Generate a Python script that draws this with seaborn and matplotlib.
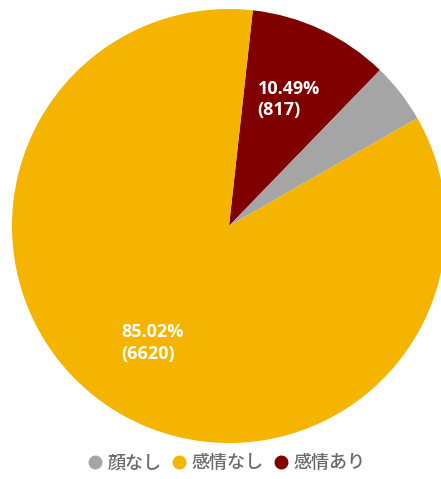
import matplotlib
matplotlib.use("Agg")
import matplotlib.pyplot as plt
from matplotlib.lines import Line2D
import seaborn as sns

# Category counts (drawn clockwise from the top)
categories = ["感情あり", "顔なし", "感情なし"]
counts = [817, 349, 6620]
colors = ["#800000", "#A5A5A5", "#F5B400"]

# Legend order
legend_order = ["顔なし", "感情なし", "感情あり"]

sns.set_theme(style="white")
plt.rcParams["font.family"] = ["Noto Sans CJK JP", "DejaVu Sans"]

W, H = 441, 479
fig = plt.figure(figsize=(W / 100, H / 100), dpi=100)
cx, cy, r = 229, H - 226, 217
ax = fig.add_axes([(cx - r) / W, (cy - r) / H, 2 * r / W, 2 * r / H])

total = sum(counts)


def fmt(pct):
    n = int(round(pct * total / 100.0))
    if n in (817, 6620):
        return f"{pct:.2f}%\n({n})"
    return ""


wedges, texts, autotexts = ax.pie(
    counts,
    colors=colors,
    startangle=90 - 6.3,
    counterclock=False,
    autopct=fmt,
    pctdistance=0.645,
    radius=1.0,
    wedgeprops=dict(linewidth=0),
    textprops=dict(color="white", fontsize=13, fontweight="bold",
                   family=["Open Sans", "DejaVu Sans"]),
)
for t in autotexts:
    t.set_multialignment("left")
    t.set_linespacing(1.25)

ax.set_xlim(-1, 1)
ax.set_ylim(-1, 1)
ax.set_aspect("equal")
ax.axis("off")

color_map = dict(zip(categories, colors))
handles = [
    Line2D([0], [0], marker="o", linestyle="", markersize=9,
           markerfacecolor=color_map[c], markeredgecolor=color_map[c], label=c)
    for c in legend_order
]
leg = fig.legend(
    handles=handles,
    loc="center",
    bbox_to_anchor=(226 / W, 1 - 463 / H),
    ncol=3,
    frameon=False,
    prop=dict(size=13, weight="medium"),
    handletextpad=0.2,
    columnspacing=0.45,
    handlelength=1.0,
)
for t in leg.get_texts():
    t.set_color("#6A6A6A")

fig.savefig("out.png", dpi=100)
